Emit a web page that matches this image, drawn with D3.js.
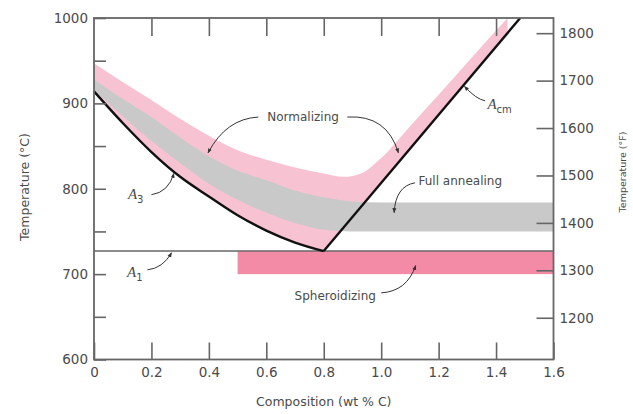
<!DOCTYPE html>
<html>
<head>
<meta charset="utf-8">
<script src="https://cdn.jsdelivr.net/npm/d3@7/dist/d3.min.js"></script>
<style>
  body { margin: 0; background: #fff; }
  svg { display: block; }
  text { font-family: "DejaVu Sans", sans-serif; fill: #4a4a4a; }
</style>
</head>
<body>
<svg id="chart" width="633" height="414"></svg>
<script>
//////////////   Data   //////////////

// A3 line (hypoeutectoid), wt% C -> deg C
let a3Comp = [0, 0.1, 0.2, 0.3, 0.4, 0.5, 0.6, 0.7, 0.8];
let a3Temp = [914, 877, 843, 814, 791, 769, 751, 737, 727];

// Acm line, straight from the eutectoid up to the top of the plot
let acmComp = [0.8, 1.484];
let acmTemp = [727, 1000];

// A1 (eutectoid) line
let a1Temp = 727;

// Upper edge of the normalizing band
let normComp = [0, 0.1, 0.2, 0.3, 0.4, 0.5, 0.6, 0.7, 0.8, 0.87, 0.93, 1.0, 1.1, 1.2, 1.3, 1.44];
let normTemp = [947, 925, 904, 882, 862, 845, 834, 825, 818, 814, 818, 836, 873, 910, 948, 1000];

// Full annealing band (lower / upper edges)
let annComp = [0, 0.1, 0.2, 0.3, 0.4, 0.5, 0.6, 0.7, 0.8, 0.9, 1.0, 1.6];
let annLow  = [916, 885, 856, 830, 806, 787, 772, 760, 752, 750, 750, 750];
let annHigh = [928, 905, 884, 860, 838, 821, 810, 798, 790, 785, 784, 784];

// Spheroidizing band
let sphComp = [0.5, 1.6];
let sphTemp = [700, 727];

// Tick labels
let xTicks = [0, 0.2, 0.4, 0.6, 0.8, 1.0, 1.2, 1.4, 1.6];
let cTicks = [600, 650, 700, 750, 800, 850, 900, 950, 1000];
let fTicks = [1200, 1300, 1400, 1500, 1600, 1700, 1800];

// Annotations: text position and arrow (from, control, to), in data units
let notes = [
  { text: "Normalizing", x: 0.728, t: 884, anchor: "middle",
    arrows: [[0.572, 884, 0.46, 882, 0.397, 842], [0.882, 884, 1.02, 887, 1.06, 842]] },
  { text: "Full annealing", x: 1.13, t: 809, anchor: "start",
    arrows: [[1.118, 807, 1.05, 803, 1.045, 772]] },
  { text: "Spheroidizing", x: 0.84, t: 675, anchor: "middle",
    arrows: [[1.0, 678, 1.09, 680, 1.12, 710]] },
];
let phaseLabels = [
  { sub: "3", x: 0.118, t: 794, arrow: [0.2, 793, 0.26, 796, 0.278, 818] },
  { sub: "1", x: 0.115, t: 703, arrow: [0.186, 705, 0.24, 707, 0.27, 725] },
  { sub: "cm", x: 1.37, t: 899, arrow: [1.362, 903, 1.33, 905, 1.29, 920] },
];

//////////////   Scales   //////////////

const toF = (c) => (c * 9) / 5 + 32;

const x = d3.scaleLinear().domain([0, 1.6]).range([94, 553.5]);
const y = d3.scaleLinear().domain([600, 1000]).range([359.5, 18]);
const yF = d3.scaleLinear().domain([toF(600), toF(1000)]).range([359.5, 18]);

const svg = d3.select("#chart");

// clip: region above the A3 / Acm "V"
let a3Pts = a3Comp.map((c, i) => [x(c), y(a3Temp[i])]);
let a3Path = d3.line().curve(d3.curveMonotoneX)(a3Pts);

let defs = svg.append("defs");
defs.append("clipPath").attr("id", "aboveV")
  .append("path")
  .attr("d", a3Path + "L" + x(acmComp[1]) + "," + y(acmTemp[1]) + "L" + x(0) + "," + y(1000) + "Z");

defs.append("marker")
  .attr("id", "tip")
  .attr("viewBox", "0 -5 10 10")
  .attr("refX", 9)
  .attr("refY", 0)
  .attr("orient", "auto")
  .attr("markerWidth", 5)
  .attr("markerHeight", 5)
  .append("path")
  .attr("d", "M0,-4L10,0L0,4Z")
  .attr("fill", "#333");

//////////////   Bands   //////////////

// normalizing (pink), clipped above A3 / Acm
svg.append("path")
  .attr("clip-path", "url(#aboveV)")
  .attr("fill", "#f7c3d2")
  .attr("d", d3.area()
    .curve(d3.curveMonotoneX)
    .x((d, i) => x(normComp[i]))
    .y0(y(600))
    .y1((d) => y(d))(normTemp));

// full annealing (gray)
svg.append("path")
  .attr("fill", "#c9c9c9")
  .attr("d", d3.area()
    .curve(d3.curveMonotoneX)
    .x((d, i) => x(annComp[i]))
    .y0((d, i) => y(annLow[i]))
    .y1((d, i) => y(annHigh[i]))(annComp));

// spheroidizing
svg.append("rect")
  .attr("x", x(sphComp[0]))
  .attr("y", y(sphTemp[1]))
  .attr("width", x(sphComp[1]) - x(sphComp[0]))
  .attr("height", y(sphTemp[0]) - y(sphTemp[1]))
  .attr("fill", "#f38ba6");

//////////////   Lines   //////////////

svg.append("line")
  .attr("x1", x(0)).attr("x2", x(1.6))
  .attr("y1", y(a1Temp)).attr("y2", y(a1Temp))
  .attr("stroke", "#666").attr("stroke-width", 1.6);

svg.append("path")
  .attr("d", a3Path)
  .attr("fill", "none").attr("stroke", "#111").attr("stroke-width", 2.4);

svg.append("line")
  .attr("x1", x(acmComp[0])).attr("y1", y(acmTemp[0]))
  .attr("x2", x(acmComp[1])).attr("y2", y(acmTemp[1]))
  .attr("stroke", "#111").attr("stroke-width", 2.4);

//////////////   Axes   //////////////

function styleAxis(g) {
  g.select(".domain").remove();
  g.selectAll(".tick line").attr("stroke", "#666").attr("stroke-width", 1.6);
  g.selectAll(".tick text").attr("fill", "#505050").style("font-size", "13.5px")
    .style("font-family", '"DejaVu Sans", sans-serif');
}

svg.append("g")
  .attr("transform", "translate(0," + y(600) + ")")
  .call(d3.axisBottom(x).tickValues(xTicks).tickSizeInner(-17).tickSizeOuter(0).tickPadding(8)
    .tickFormat((d) => (d === 0 ? "0" : d.toFixed(1))))
  .call(styleAxis);

svg.append("g")
  .attr("transform", "translate(0," + y(1000) + ")")
  .call(d3.axisTop(x).tickValues(xTicks.slice(1, -1)).tickSizeInner(-18).tickSizeOuter(0).tickFormat(""))
  .call(styleAxis);

svg.append("g")
  .attr("transform", "translate(" + x(0) + ",0)")
  .call(d3.axisLeft(y).tickValues(cTicks).tickSizeInner(-12).tickSizeOuter(0).tickPadding(6)
    .tickFormat((d) => (d % 100 === 0 ? d : "")))
  .call(styleAxis);

svg.append("g")
  .attr("transform", "translate(" + x(1.6) + ",0)")
  .call(d3.axisRight(yF).tickValues(fTicks).tickSizeInner(-17).tickSizeOuter(0).tickPadding(6)
    .tickFormat(d3.format("d")))
  .call(styleAxis);

// frame
svg.append("rect")
  .attr("x", x(0)).attr("y", y(1000))
  .attr("width", x(1.6) - x(0)).attr("height", y(600) - y(1000))
  .attr("fill", "none").attr("stroke", "#666").attr("stroke-width", 1.8);

// axis titles
svg.append("text")
  .attr("x", (x(0) + x(1.6)) / 2).attr("y", 406)
  .attr("text-anchor", "middle").style("font-size", "12.5px")
  .text("Composition (wt % C)");

svg.append("text")
  .attr("transform", "translate(29," + 187 + ") rotate(-90)")
  .attr("text-anchor", "middle").style("font-size", "12.5px")
  .text("Temperature (°C)");

svg.append("text")
  .attr("transform", "translate(626," + 172 + ") rotate(-90)")
  .attr("text-anchor", "middle").style("font-size", "9.5px")
  .text("Temperature (°F)");

//////////////   Annotations   //////////////

function arrowPath(a) {
  return "M" + x(a[0]) + "," + y(a[1]) + "Q" + x(a[2]) + "," + y(a[3]) + " " + x(a[4]) + "," + y(a[5]);
}

notes.forEach((n) => {
  svg.append("text")
    .attr("x", x(n.x)).attr("y", y(n.t)).attr("dy", "0.35em")
    .attr("text-anchor", n.anchor).style("font-size", "12px")
    .text(n.text);
  n.arrows.forEach((a) => {
    svg.append("path").attr("d", arrowPath(a))
      .attr("fill", "none").attr("stroke", "#333").attr("stroke-width", 1)
      .attr("marker-end", "url(#tip)");
  });
});

phaseLabels.forEach((p) => {
  let t = svg.append("text")
    .attr("x", x(p.x)).attr("y", y(p.t)).attr("dy", "0.35em")
    .style("font-family", '"Liberation Serif", serif').style("font-size", "15px");
  t.append("tspan").style("font-style", "italic").text("A");
  t.append("tspan").attr("dy", "4").style("font-size", "10px")
    .style("font-family", '"DejaVu Sans", sans-serif').text(p.sub);
  svg.append("path").attr("d", arrowPath(p.arrow))
    .attr("fill", "none").attr("stroke", "#333").attr("stroke-width", 1)
    .attr("marker-end", "url(#tip)");
});
</script>
</body>
</html>
